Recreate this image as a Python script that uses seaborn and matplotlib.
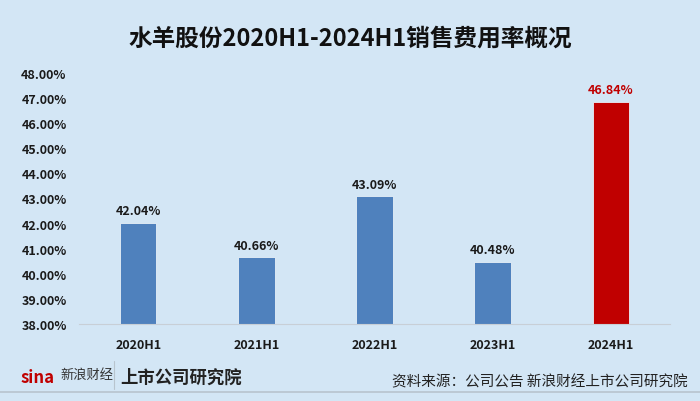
import pandas as pd
import matplotlib.pyplot as plt
import seaborn as sns

periods = ['2020H1', '2021H1', '2022H1', '2023H1', '2024H1']
sales_expense_rate = [42.04, 40.66, 43.09, 40.48, 46.84]
bar_colors = ['#4f81bd', '#4f81bd', '#4f81bd', '#4f81bd', '#c00000']
label_colors = ['#1a1a1a', '#1a1a1a', '#1a1a1a', '#1a1a1a', '#c00000']
y_ticks = [38, 39, 40, 41, 42, 43, 44, 45, 46, 47, 48]

df = pd.DataFrame({'period': periods, 'rate': sales_expense_rate})

sns.set_style('white')
plt.rcParams['font.family'] = ['Noto Sans CJK SC', 'DejaVu Sans']
bg = '#d3e6f5'

fig = plt.figure(figsize=(7, 4.02), dpi=100, facecolor=bg)
ax = fig.add_axes([0.113, 0.1915, 0.844, 0.625], facecolor=bg)

sns.barplot(data=df, x='period', y='rate', hue='period', palette=bar_colors,
            legend=False, width=0.31, saturation=1, ax=ax,
            edgecolor='#e8f0f8', linewidth=0.6)

ax.set_ylim(38, 48)
ax.set_yticks(y_ticks)
ax.set_yticklabels([f'{t:.2f}%' for t in y_ticks], fontsize=9, fontweight='bold', color='#1a1a1a')
ax.tick_params(axis='x', labelsize=9, pad=10, length=0)
ax.tick_params(axis='y', pad=9, length=0)
for lbl in ax.get_xticklabels():
    lbl.set_fontweight('bold')
    lbl.set_color('#1a1a1a')
ax.set_xlabel('')
ax.set_ylabel('')
for s in ['top', 'right', 'left']:
    ax.spines[s].set_visible(False)
ax.spines['bottom'].set_color('#c8cfd6')
ax.spines['bottom'].set_linewidth(0.8)

for i, v in enumerate(sales_expense_rate):
    ax.text(i, v + 0.22, f'{v:.2f}%', ha='center', va='bottom', fontsize=9,
            fontweight='bold', color=label_colors[i])

fig.text(0.5, 0.903, '水羊股份2020H1-2024H1销售费用率概况', ha='center', va='center',
         fontsize=17, fontweight='bold', color='#111111')

# footer
fig.text(0.03, 0.06, 'sina', fontsize=12, fontweight='bold', style='italic', color='#c00000', va='center')
fig.text(0.087, 0.066, '新浪财经', fontsize=9.5, style='italic', color='#333333', va='center')
fig.add_artist(plt.Line2D([0.163, 0.163], [0.03, 0.1], color='#b8c4ce', linewidth=0.8))
fig.text(0.172, 0.06, '上市公司研究院', fontsize=12.5, fontweight='bold', style='italic', color='#222222', va='center')
fig.text(0.983, 0.05, '资料来源：公司公告 新浪财经上市公司研究院', ha='right', va='center',
         fontsize=10.5, color='#222222')
fig.add_artist(plt.Line2D([0, 1], [0.022, 0.022], color='#b8c4ce', linewidth=1.2))

fig.savefig('out.png', dpi=100, facecolor=bg)
